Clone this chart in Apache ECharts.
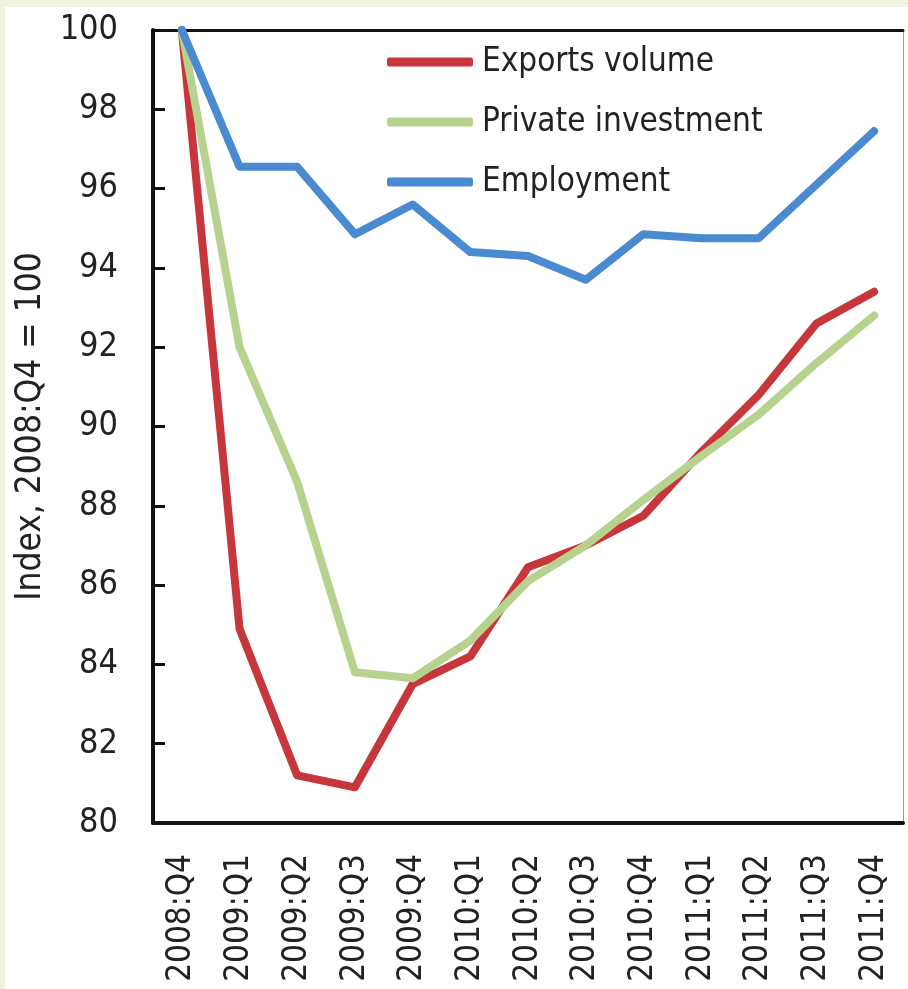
<!DOCTYPE html>
<html>
<head>
<meta charset="utf-8">
<script src="https://cdn.jsdelivr.net/npm/echarts@6/dist/echarts.min.js"></script>
<style>
  html, body { margin: 0; padding: 0; width: 908px; height: 989px; overflow: hidden; background: #edf3df; }
  #paper { position: absolute; left: 5px; top: 7px; width: 903px; height: 982px; background: #ffffff; }
  #chart { position: absolute; left: 0; top: 0; width: 908px; height: 989px; }
</style>
</head>
<body>
<div id="paper"></div>
<div id="chart"></div>
<script>
const categories = ['2008:Q4','2009:Q1','2009:Q2','2009:Q3','2009:Q4','2010:Q1','2010:Q2','2010:Q3','2010:Q4','2011:Q1','2011:Q2','2011:Q3','2011:Q4'];
const exportsVolume = [100, 84.9, 81.2, 80.9, 83.5, 84.2, 86.45, 87.0, 87.75, 89.35, 90.8, 92.6, 93.4];
const privateInvestment = [100, 92.0, 88.6, 83.8, 83.65, 84.6, 86.1, 87.0, 88.15, 89.25, 90.3, 91.6, 92.8];
const employment = [100, 96.55, 96.55, 94.85, 95.6, 94.4, 94.3, 93.7, 94.85, 94.75, 94.75, 96.1, 97.45];
const seriesNames = ['Exports volume', 'Private investment', 'Employment'];
const yTicks = { min: 80, max: 100, interval: 2 };

const FONT = "'Liberation Sans Narrow', 'Arial Narrow', 'DejaVu Sans Condensed', sans-serif";
const TXT = '#222222';
const colors = ['#c6363b', '#b6d28e', '#4a8ad0'];

const chart = echarts.init(document.getElementById('chart'), null, { renderer: 'canvas' });

function lineSeries(name, data, color) {
  return {
    name: name,
    type: 'line',
    data: data,
    symbol: 'none',
    clip: false,
    smooth: false,
    lineStyle: { color: color, width: 8, cap: 'round', join: 'round' },
    itemStyle: { color: color }
  };
}

chart.setOption({
  backgroundColor: 'transparent',
  animation: false,
  color: colors,
  textStyle: { fontFamily: FONT },
  grid: { left: 153, top: 30, right: 5, bottom: 166, containLabel: false, outerBoundsMode: 'none' },
  legend: {
    orient: 'vertical',
    left: 387,
    top: 42,
    padding: 0,
    icon: 'roundRect',
    itemWidth: 86,
    itemHeight: 9,
    itemGap: 20,
    data: seriesNames,
    textStyle: { fontFamily: FONT, fontSize: 33, lineHeight: 40, color: TXT, padding: [0, 0, 0, 4] }
  },
  xAxis: [
    {
      type: 'category',
      data: categories,
      boundaryGap: true,
      axisLine: { show: true, lineStyle: { color: '#111', width: 4 } },
      axisTick: { show: false },
      splitLine: { show: false },
      axisLabel: { rotate: 90, interval: 0, fontSize: 33, fontFamily: FONT, color: TXT, margin: 31 }
    },
    {
      type: 'category',
      data: categories,
      position: 'top',
      boundaryGap: true,
      axisLine: { show: true, lineStyle: { color: '#111', width: 3 } },
      axisTick: { show: false },
      axisLabel: { show: false },
      splitLine: { show: false }
    }
  ],
  yAxis: [
    {
      type: 'value',
      min: yTicks.min,
      max: yTicks.max,
      interval: yTicks.interval,
      name: 'Index, 2008:Q4 = 100',
      nameLocation: 'middle',
      nameRotate: 90,
      nameGap: 104,
      nameTextStyle: { fontSize: 35, fontFamily: FONT, color: TXT },
      axisLine: { show: true, lineStyle: { color: '#111', width: 4 } },
      axisTick: { show: true, inside: true, length: 12, lineStyle: { color: '#111', width: 3 } },
      splitLine: { show: false },
      axisLabel: { fontSize: 34, fontFamily: FONT, color: TXT, margin: 35 }
    },
    {
      type: 'value',
      min: yTicks.min,
      max: yTicks.max,
      interval: yTicks.interval,
      position: 'right',
      axisLine: { show: true, lineStyle: { color: '#9a9a9a', width: 1 } },
      axisTick: { show: false },
      axisLabel: { show: false },
      splitLine: { show: false }
    }
  ],
  series: [
    lineSeries(seriesNames[0], exportsVolume, colors[0]),
    lineSeries(seriesNames[1], privateInvestment, colors[1]),
    lineSeries(seriesNames[2], employment, colors[2])
  ]
});
</script>
</body>
</html>
